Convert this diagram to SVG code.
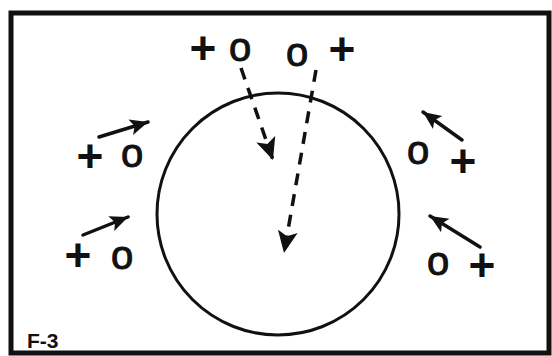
<svg xmlns="http://www.w3.org/2000/svg" width="552" height="356" viewBox="0 0 552 356">
<style>
.sym{font-family:"Liberation Sans",Arial,sans-serif;fill:#111;text-anchor:middle}
.o{font-size:40px;stroke:#111;stroke-width:1}
.p{font-size:46px;font-weight:bold}
.solid{fill:none;stroke:#111;stroke-width:3.5;stroke-linecap:round}
.dash{fill:none;stroke:#111;stroke-width:3.5;stroke-dasharray:12 9}
</style>
<defs>
<marker id="ah" markerUnits="userSpaceOnUse" markerWidth="20" markerHeight="18" refX="18" refY="9" orient="auto">
<path d="M0,1 L18,9 L0,17 L4,9 Z" fill="#111"/>
</marker>
<marker id="ahd" markerUnits="userSpaceOnUse" markerWidth="24" markerHeight="22" refX="22" refY="11" orient="auto">
<path d="M0,1 L22,11 L0,21 L5,11 Z" fill="#111"/>
</marker>
</defs>
<rect x="0" y="0" width="552" height="356" fill="#fff"/>
<rect id="frame" x="11" y="13" width="538" height="340" fill="none" stroke="#111" stroke-width="5"/>
<g id="circle"><circle cx="278" cy="214" r="121" fill="none" stroke="#111" stroke-width="3"/></g>
<g id="connectors">
<path class="dash" d="M241,68 L273,160" marker-end="url(#ahd)"/>
<path class="dash" d="M316,70 L284,253" marker-end="url(#ahd)"/>
<path class="solid" d="M99,137 L148,122" marker-end="url(#ah)"/>
<path class="solid" d="M83,235 L128,217" marker-end="url(#ah)"/>
<path class="solid" d="M462,140 L423,112" marker-end="url(#ah)"/>
<path class="solid" d="M480,247 L430,216" marker-end="url(#ah)"/>
</g>
<g id="top-left-pair"><text class="sym p" x="203" y="64">+</text><text class="sym o" x="240" y="61">o</text></g>
<g id="top-right-pair"><text class="sym o" x="297" y="66">o</text><text class="sym p" x="342" y="65">+</text></g>
<g id="left-upper-pair"><text class="sym p" x="90" y="172">+</text><text class="sym o" x="132" y="167">o</text></g>
<g id="left-lower-pair"><text class="sym p" x="78" y="271">+</text><text class="sym o" x="122" y="269">o</text></g>
<g id="right-upper-pair"><text class="sym o" x="418" y="164">o</text><text class="sym p" x="463" y="177">+</text></g>
<g id="right-lower-pair"><text class="sym o" x="438" y="275" font-size="44">o</text><text class="sym p" x="482" y="281">+</text></g>
<g id="label"><text x="27" y="348" font-family="Liberation Sans,Arial,sans-serif" font-weight="bold" font-size="21" fill="#111">F-3</text></g>
</svg>
